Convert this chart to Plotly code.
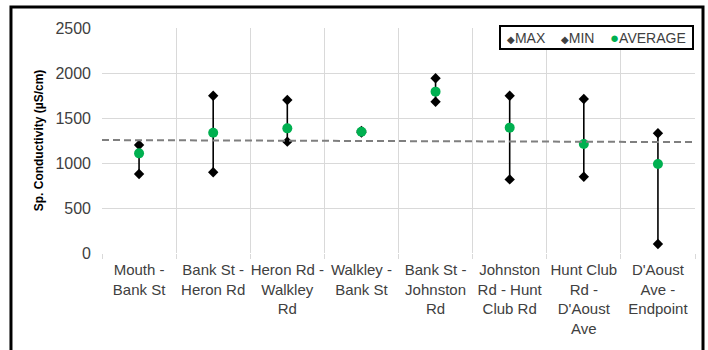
import plotly.graph_objects as go

# River segments (upstream order) and specific conductivity statistics (µS/cm)
segments = [
    "Mouth -<br>Bank St",
    "Bank St -<br>Heron Rd",
    "Heron Rd -<br>Walkley<br>Rd",
    "Walkley -<br>Bank St",
    "Bank St -<br>Johnston<br>Rd",
    "Johnston<br>Rd - Hunt<br>Club Rd",
    "Hunt Club<br>Rd -<br>D'Aoust<br>Ave",
    "D'Aoust<br>Ave -<br>Endpoint",
]
max_vals = [1200, 1748, 1700, 1356, 1941, 1748, 1711, 1330]
min_vals = [878, 897, 1237, 1338, 1681, 818, 848, 100]
avg_vals = [1107, 1337, 1385, 1348, 1793, 1393, 1211, 989]

# Dashed reference line: value at left and right edges of the plot
reference_ends = [1255, 1232]

y_ticks = [0, 500, 1000, 1500, 2000, 2500]

GREEN = "#00b050"
GRID = "#d9d9d9"
TEXT = "#404040"

fig = go.Figure()

# Range bars from min to max
bar_x, bar_y = [], []
for seg, lo, hi in zip(segments, min_vals, max_vals):
    bar_x += [seg, seg, None]
    bar_y += [lo, hi, None]
fig.add_trace(go.Scatter(x=bar_x, y=bar_y, mode="lines",
                         line=dict(color="black", width=1.6),
                         showlegend=False, hoverinfo="skip"))

fig.add_trace(go.Scatter(x=segments, y=max_vals, mode="markers", name="MAX",
                         marker=dict(symbol="diamond", size=8, color="black"),
                         showlegend=False))
fig.add_trace(go.Scatter(x=segments, y=min_vals, mode="markers", name="MIN",
                         marker=dict(symbol="diamond", size=8, color="black"),
                         showlegend=False))
fig.add_trace(go.Scatter(x=segments, y=avg_vals, mode="markers", name="AVERAGE",
                         marker=dict(symbol="circle", size=10, color=GREEN),
                         showlegend=False))

# Dashed reference line across the full plot width
fig.add_shape(type="line", xref="x", yref="y",
              x0=-0.5, x1=len(segments) - 0.5,
              y0=reference_ends[0], y1=reference_ends[1],
              line=dict(color="#7f7f7f", width=2, dash="7px,4px"), layer="above")

# Outer frame of the figure
fig.add_shape(type="rect", xref="paper", yref="paper",
              x0=-0.1535, x1=1.0135, y0=-0.47, y1=1.0933,
              line=dict(color="black", width=3), fillcolor="rgba(0,0,0,0)")

# Legend box
NB = "\u00a0"
legend_html = (f"{NB}<span style='font-size:10px'>◆</span>MAX{NB}{NB}{NB}{NB}"
               f"<span style='font-size:10px'>◆</span>MIN{NB}{NB}{NB}{NB}"
               f"<span style='color:{GREEN};font-size:15px'>●</span>AVERAGE{NB}")
fig.add_annotation(xref="paper", yref="paper", x=0.999, y=1.012,
                   xanchor="right", yanchor="top", showarrow=False,
                   text=legend_html, font=dict(family="Arial", size=14, color=TEXT),
                   bgcolor="white", bordercolor="black", borderwidth=2, borderpad=2)

fig.update_xaxes(type="category", categoryorder="array", categoryarray=segments,
                 range=[-0.5, len(segments) - 0.5],
                 tickson="boundaries", showgrid=True, gridcolor=GRID, gridwidth=1,
                 ticks="outside", ticklen=5, tickcolor=GRID, showline=False,
                 zeroline=False, tickangle=0, automargin=False,
                 ticklabelstandoff=6,
                 tickfont=dict(family="Arial", size=15, color=TEXT))
fig.update_yaxes(range=[0, 2500], tickvals=y_ticks, showgrid=True, gridcolor=GRID,
                 gridwidth=1, zeroline=False, showline=False, ticks="",
                 ticklabelstandoff=10, automargin=False,
                 tickfont=dict(family="Arial", size=16, color=TEXT),
                 title=dict(text="<b>Sp. Conductivity (µS/cm)</b>", standoff=9,
                            font=dict(family="Arial", size=12, color="black")))

fig.update_layout(width=708, height=350,
                  margin=dict(l=102, r=13, t=28, b=97),
                  paper_bgcolor="white", plot_bgcolor="white",
                  showlegend=False)

fig.write_html("out.html")
